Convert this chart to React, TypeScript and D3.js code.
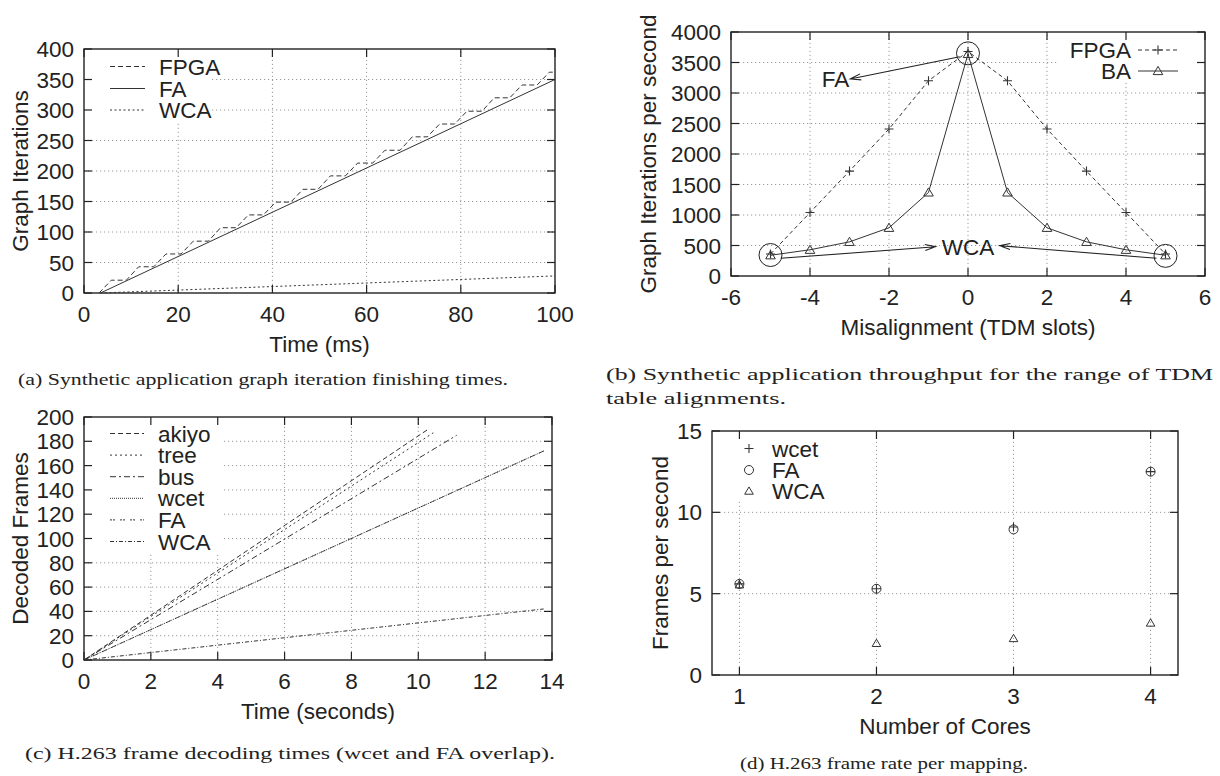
import React from 'react';
import * as d3 from 'd3';

const SANS = '"Liberation Sans", Arial, sans-serif';
const SERIF = '"Liberation Serif", "DejaVu Serif", serif';
const INK = '#222';
const LINE = '#333';
const FS = 22.5;

// (a) graph iteration finishing times
const timeTicksA = [0, 20, 40, 60, 80, 100];
const iterTicksA = [0, 50, 100, 150, 200, 250, 300, 350, 400];
const fpgaFinish: [number, number][] = [
  [3.2, 0], [5.8, 21], [9.0, 21], [11.6, 43], [14.8, 43], [17.4, 64], [20.6, 64], [23.2, 85],
  [26.4, 85], [29.0, 107], [32.3, 107], [34.9, 128], [38.1, 128], [40.7, 149], [43.9, 149],
  [46.5, 170], [49.7, 170], [52.3, 192], [55.5, 192], [58.1, 213], [61.3, 213], [63.9, 234],
  [67.1, 234], [69.7, 256], [72.9, 256], [75.5, 277], [78.7, 277], [81.3, 298], [84.5, 298],
  [87.1, 320], [90.4, 320], [93.0, 341], [96.2, 341], [98.8, 362], [100, 362],
];
const faFinish: [number, number][] = [[3.5, 0], [100, 350]];
const wcaFinish: [number, number][] = [[3.5, 0], [100, 28]];

// (b) throughput vs misalignment
const misalignment = [-5, -4, -3, -2, -1, 0, 1, 2, 3, 4, 5];
const fpgaRate = [360, 1040, 1720, 2410, 3200, 3680, 3200, 2410, 1720, 1040, 360];
const baRate = [340, 430, 560, 790, 1370, 3640, 1370, 790, 560, 430, 340];
const misTicks = [-6, -4, -2, 0, 2, 4, 6];
const rateTicks = [0, 500, 1000, 1500, 2000, 2500, 3000, 3500, 4000];

// (c) H.263 decoding
const timeTicksC = [0, 2, 4, 6, 8, 10, 12, 14];
const frameTicksC = [0, 20, 40, 60, 80, 100, 120, 140, 160, 180, 200];
const akiyo: [number, number][] = [[0, 0], [10.3, 190]];
const tree: [number, number][] = [[0, 0], [10.45, 187]];
const bus: [number, number][] = [[0, 0], [11.15, 185]];
const wcetC: [number, number][] = [[0, 0], [13.75, 172]];
const faC: [number, number][] = [[0, 0], [13.75, 172]];
const wcaC: [number, number][] = [[0, 0], [13.75, 42]];

// (d) frame rate per mapping
const cores = [1, 2, 3, 4];
const wcetFps = [5.6, 5.3, 9.1, 12.5];
const faFps = [5.6, 5.3, 8.95, 12.5];
const wcaFps = [5.55, 1.95, 2.25, 3.2];
const fpsTicks = [0, 5, 10, 15];

type Lin = d3.ScaleLinear<number, number>;

const Frame = ({ x, y, xTicks, yTicks, mask, xTitle, yTitle, yTitleX }: {
  x: Lin; y: Lin; xTicks: number[]; yTicks: number[];
  mask: [number, number, number, number]; xTitle: string; yTitle: string; yTitleX: number;
}) => {
  const [x0, x1] = x.range();
  const [y0, y1] = y.range(); // y0 bottom, y1 top
  const tick = 8;
  return (
    <g>
      <g stroke="#9a9a9a" strokeWidth={1} strokeDasharray="1.2,2.8">
        {xTicks.filter((t) => x(t) > x0 + 1 && x(t) < x1 - 1).map((t) => (
          <line key={'gx' + t} x1={x(t)} x2={x(t)} y1={y0} y2={y1} />
        ))}
        {yTicks.filter((t) => y(t) < y0 - 1 && y(t) > y1 + 1).map((t) => (
          <line key={'gy' + t} x1={x0} x2={x1} y1={y(t)} y2={y(t)} />
        ))}
      </g>
      <rect x={mask[0]} y={mask[1]} width={mask[2] - mask[0]} height={mask[3] - mask[1]} fill="#fff" />
      <g stroke={INK} strokeWidth={1.2}>
        {xTicks.map((t) => (
          <g key={'tx' + t}>
            <line x1={x(t)} x2={x(t)} y1={y0} y2={y0 - tick} />
            <line x1={x(t)} x2={x(t)} y1={y1} y2={y1 + tick} />
          </g>
        ))}
        {yTicks.map((t) => (
          <g key={'ty' + t}>
            <line x1={x0} x2={x0 + tick} y1={y(t)} y2={y(t)} />
            <line x1={x1} x2={x1 - tick} y1={y(t)} y2={y(t)} />
          </g>
        ))}
      </g>
      <rect x={x0} y={y1} width={x1 - x0} height={y0 - y1} fill="none" stroke={INK} strokeWidth={1.4} />
      <g fontFamily={SANS} fontSize={FS} fill={INK}>
        {xTicks.map((t) => (
          <text key={'lx' + t} x={x(t)} y={y0 + 29} textAnchor="middle">{t}</text>
        ))}
        {yTicks.map((t) => (
          <text key={'ly' + t} x={x0 - 10} y={y(t) + 8} textAnchor="end">{t}</text>
        ))}
        <text x={(x0 + x1) / 2} y={y0 + 59} textAnchor="middle">{xTitle}</text>
        <text transform={`translate(${yTitleX},${(y0 + y1) / 2}) rotate(-90)`} textAnchor="middle">{yTitle}</text>
      </g>
    </g>
  );
};

const LegendLine = ({ x1, x2, y, label, dash, lx }: { x1: number; x2: number; y: number; label: string; dash?: string; lx: number }) => (
  <g>
    <line x1={x1} x2={x2} y1={y} y2={y} stroke={LINE} strokeWidth={1} strokeDasharray={dash} />
    <text x={lx} y={y + 8} fontFamily={SANS} fontSize={FS} fill={INK}>{label}</text>
  </g>
);

const Cross = ({ cx, cy, r = 4.5 }: { cx: number; cy: number; r?: number }) => (
  <path d={`M${cx - r},${cy}H${cx + r}M${cx},${cy - r}V${cy + r}`} stroke={LINE} strokeWidth={1.1} fill="none" />
);
const Tri = ({ cx, cy, r = 4.8 }: { cx: number; cy: number; r?: number }) => (
  <path d={`M${cx - r},${cy + r * 0.75}L${cx + r},${cy + r * 0.75}L${cx},${cy - r * 0.95}Z`} stroke={LINE} strokeWidth={1} fill="none" />
);
const Ring = ({ cx, cy, r = 4.5 }: { cx: number; cy: number; r?: number }) => (
  <circle cx={cx} cy={cy} r={r} stroke={LINE} strokeWidth={1} fill="none" />
);

const Arrow = ({ x1, y1, x2, y2 }: { x1: number; y1: number; x2: number; y2: number }) => {
  const a = Math.atan2(y2 - y1, x2 - x1);
  const h = 11, w = 0.28;
  const p1 = [x2 - h * Math.cos(a - w), y2 - h * Math.sin(a - w)];
  const p2 = [x2 - h * Math.cos(a + w), y2 - h * Math.sin(a + w)];
  return (
    <path d={`M${x1},${y1}L${x2},${y2}M${p1[0]},${p1[1]}L${x2},${y2}L${p2[0]},${p2[1]}`} stroke={INK} strokeWidth={1.1} fill="none" />
  );
};

const PanelA = () => {
  const x = d3.scaleLinear().domain([0, 100]).range([84, 555]);
  const y = d3.scaleLinear().domain([0, 400]).range([293, 49]);
  const line = d3.line<[number, number]>().x((d) => x(d[0])).y((d) => y(d[1]));
  return (
    <g>
      <Frame x={x} y={y} xTicks={timeTicksA} yTicks={iterTicksA} mask={[85, 50, 212, 123]}
        xTitle="Time (ms)" yTitle="Graph Iterations" yTitleX={28} />
      <path d={line(fpgaFinish) ?? ''} fill="none" stroke={LINE} strokeWidth={1} strokeDasharray="5,3" />
      <path d={line(faFinish) ?? ''} fill="none" stroke={LINE} strokeWidth={1} />
      <path d={line(wcaFinish) ?? ''} fill="none" stroke={LINE} strokeWidth={1} strokeDasharray="2,2.5" />
      <LegendLine x1={110} x2={145} y={66.5} label="FPGA" dash="5,3" lx={159} />
      <LegendLine x1={110} x2={145} y={88.5} label="FA" lx={159} />
      <LegendLine x1={110} x2={145} y={110} label="WCA" dash="2,2.5" lx={159} />
    </g>
  );
};

const PanelB = () => {
  const x = d3.scaleLinear().domain([-6, 6]).range([731, 1205]);
  const y = d3.scaleLinear().domain([0, 4000]).range([276, 32]);
  const fpgaPts: [number, number][] = misalignment.map((m, i) => [m, fpgaRate[i]]);
  const baPts: [number, number][] = misalignment.map((m, i) => [m, baRate[i]]);
  const line = d3.line<[number, number]>().x((d) => x(d[0])).y((d) => y(d[1]));
  return (
    <g>
      <Frame x={x} y={y} xTicks={misTicks} yTicks={rateTicks} mask={[1058, 33, 1204, 82]}
        xTitle="Misalignment (TDM slots)" yTitle="Graph Iterations per second" yTitleX={656} />
      <path d={line(fpgaPts) ?? ''} fill="none" stroke={LINE} strokeWidth={1} strokeDasharray="4,3" />
      <path d={line(baPts) ?? ''} fill="none" stroke={LINE} strokeWidth={1} />
      {fpgaPts.map((d, i) => <Cross key={'c' + i} cx={x(d[0])} cy={y(d[1])} />)}
      {baPts.map((d, i) => <Tri key={'t' + i} cx={x(d[0])} cy={y(d[1])} />)}
      <ellipse cx={x(-5)} cy={y(344)} rx={11.5} ry={11.5} fill="none" stroke={INK} strokeWidth={1} />
      <ellipse cx={x(0)} cy={y(3650)} rx={11.5} ry={11.5} fill="none" stroke={INK} strokeWidth={1} />
      <ellipse cx={x(5)} cy={y(330)} rx={11.5} ry={11.5} fill="none" stroke={INK} strokeWidth={1} />
      <Arrow x1={x(-0.21)} y1={y(3595)} x2={x(-2.98)} y2={y(3230)} />
      <Arrow x1={x(-4.74)} y1={y(290)} x2={x(-0.82)} y2={y(480)} />
      <Arrow x1={x(4.77)} y1={y(290)} x2={x(0.8)} y2={y(497)} />
      <g fontFamily={SANS} fontSize={FS} fill={INK}>
        <text x={x(-2.98) - 1} y={y(3230) + 8} textAnchor="end">FA</text>
        <text x={x(0)} y={y(480) + 8} textAnchor="middle">WCA</text>
        <text x={1131} y={58} textAnchor="end">FPGA</text>
        <text x={1131} y={79} textAnchor="end">BA</text>
      </g>
      <line x1={1138} x2={1178} y1={50} y2={50} stroke={LINE} strokeWidth={1} strokeDasharray="4,3" />
      <Cross cx={1158} cy={50} />
      <line x1={1138} x2={1178} y1={71} y2={71} stroke={LINE} strokeWidth={1} />
      <Tri cx={1158} cy={71} />
    </g>
  );
};

const PanelC = () => {
  const x = d3.scaleLinear().domain([0, 14]).range([84, 552]);
  const y = d3.scaleLinear().domain([0, 200]).range([660, 417]);
  const line = d3.line<[number, number]>().x((d) => x(d[0])).y((d) => y(d[1]));
  const series: { name: string; pts: [number, number][]; dash?: string }[] = [
    { name: 'akiyo', pts: akiyo, dash: '5,3' },
    { name: 'tree', pts: tree, dash: '2,3' },
    { name: 'bus', pts: bus, dash: '6,3,2,3' },
    { name: 'wcet', pts: wcetC, dash: '1,1' },
    { name: 'FA', pts: faC, dash: '2,1,2,5' },
    { name: 'WCA', pts: wcaC, dash: '4,2,1,2' },
  ];
  return (
    <g>
      <Frame x={x} y={y} xTicks={timeTicksC} yTicks={frameTicksC} mask={[85, 418, 222, 553]}
        xTitle="Time (seconds)" yTitle="Decoded Frames" yTitleX={28} />
      {series.map((s) => (
        <path key={s.name} d={line(s.pts) ?? ''} fill="none" stroke={LINE} strokeWidth={1} strokeDasharray={s.dash} />
      ))}
      {series.map((s, i) => (
        <LegendLine key={'l' + s.name} x1={110} x2={144} y={433.5 + i * 21.6} label={s.name} dash={s.dash} lx={158} />
      ))}
    </g>
  );
};

const PanelD = () => {
  const x = d3.scaleLinear().domain([0.8, 4.2]).range([712, 1178]);
  const y = d3.scaleLinear().domain([0, 15]).range([675, 431]);
  return (
    <g>
      <Frame x={x} y={y} xTicks={cores} yTicks={fpsTicks} mask={[713, 432, 800, 500]}
        xTitle="Number of Cores" yTitle="Frames per second" yTitleX={668} />
      {cores.map((c, i) => <Cross key={'w' + c} cx={x(c)} cy={y(wcetFps[i])} />)}
      {cores.map((c, i) => <Ring key={'f' + c} cx={x(c)} cy={y(faFps[i])} />)}
      {cores.map((c, i) => <Tri key={'a' + c} cx={x(c)} cy={y(wcaFps[i])} r={4.3} />)}
      <Cross cx={749} cy={448.5} />
      <Ring cx={749} cy={470} />
      <Tri cx={749} cy={491} r={4.3} />
      <g fontFamily={SANS} fontSize={FS} fill={INK}>
        <text x={772} y={456.5}>wcet</text>
        <text x={772} y={478}>FA</text>
        <text x={772} y={499}>WCA</text>
      </g>
    </g>
  );
};

export default function App() {
  return (
    <svg width={1220} height={776} style={{ position: 'absolute', left: 0, top: 0, background: '#fff' }}>
      <rect width={1220} height={776} fill="#fff" />
      <PanelA />
      <PanelB />
      <PanelC />
      <PanelD />
      <g fontFamily={SERIF} fontSize={17.5} fill={INK}>
        <text x={18} y={385} textLength={490} lengthAdjust="spacingAndGlyphs">(a) Synthetic application graph iteration finishing times.</text>
        <text x={606} y={380} textLength={607} lengthAdjust="spacingAndGlyphs">(b) Synthetic application throughput for the range of TDM</text>
        <text x={606} y={404} textLength={180} lengthAdjust="spacingAndGlyphs">table alignments.</text>
        <text x={25} y={759} textLength={530} lengthAdjust="spacingAndGlyphs">(c) H.263 frame decoding times (wcet and FA overlap).</text>
        <text x={740} y={769} textLength={288} lengthAdjust="spacingAndGlyphs">(d) H.263 frame rate per mapping.</text>
      </g>
    </svg>
  );
}
